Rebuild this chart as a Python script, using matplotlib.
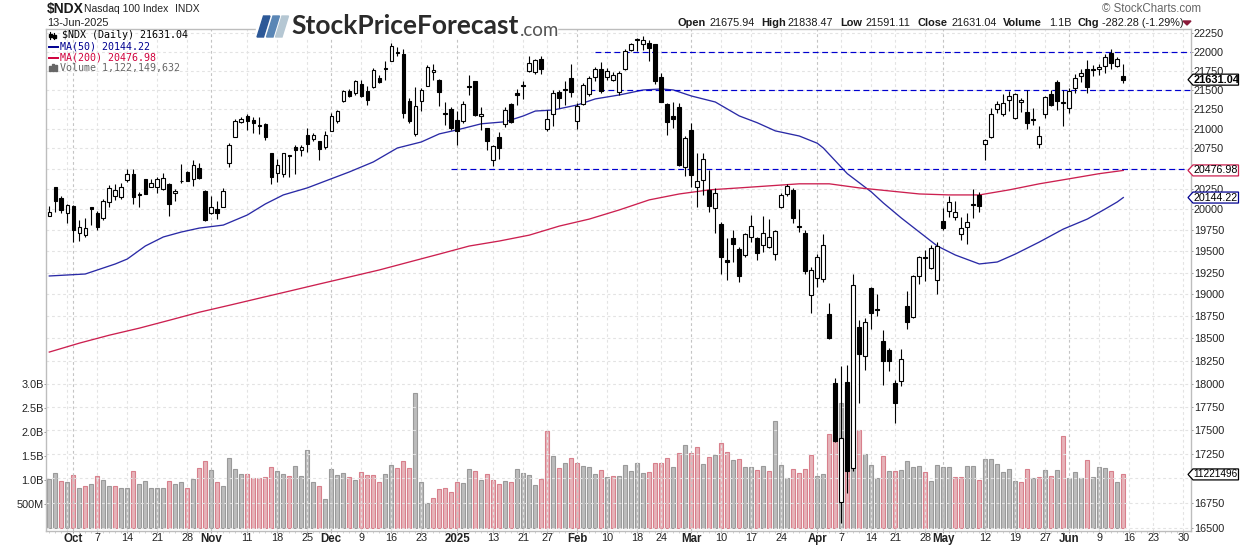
import matplotlib
matplotlib.use('Agg')
import matplotlib.pyplot as plt
from matplotlib.patches import Polygon, Rectangle
from matplotlib.lines import Line2D
from matplotlib.ticker import NullLocator
from matplotlib.transforms import Affine2D
import numpy as np
import pandas as pd

plt.rcParams['font.family'] = ['Liberation Sans', 'DejaVu Sans']

holidays = ['2024-11-28', '2024-12-25', '2025-01-01', '2025-01-09', '2025-01-20',
            '2025-02-17', '2025-04-18', '2025-05-26', '2025-06-19']

opens = [19915,20275,20142,19952,20042,19712,19696,20025,19952,19891,
         20092,20158,20146,20358,20437,20187,20375,20279,20275,20250,
         20304,20200,20350,20454,20375,20512,20225,19952,20000,20033,
         20574,20898,21083,21167,21104,21042,21054,20688,20442,20433,
         20671,20770,20734,20919,20865,20847,20770,20975,21096,21353,
         21483,21452,21579,21487,21530,21653,21785,21880,21985,21965,
         21355,20937,21350,21553,21733,21631,21200,21254,21108,21096,
         21553,21618,21158,21012,20603,20894,21063,21319,21457,21561,
         21745,21728,21905,21000,21187,21470,21509,21653,21092,21315,
         21439,21662,21776,21662,21623,21470,21776,22026,22164,22104,
         22120,22099,21667,21315,21167,21275,20525,20987,20275,20362,
         20233,20012,19821,19402,19655,19530,19453,19665,19655,19574,
         19550,19469,20033,20187,20242,19805,19712,18990,19184,19173,
         18775,18013,16763,18023,17113,18625,18300,19070,18828,18470,
         18367,18013,18026,18866,18745,19212,19432,19310,19161,19857,
         19980,19908,19700,19790,20067,20171,20810,20894,21250,21192,
         21366,21137,21340,21212,21117,20805,21192,21444,21605,21336,
         21258,21518,21675,21772,21776,21767,21810,21978,21815,21675.94]

highs = [20040,20275,20158,20066,20054,19871,19891,20033,19984,20129,
         20292,20312,20325,20500,20492,20208,20375,20367,20400,20442,
         20325,20250,20552,20471,20602,20566,20233,20167,20108,20258,
         20813,21125,21150,21188,21146,21154,21067,20688,20623,20697,
         20671,20795,20800,21004,20941,20850,20967,21200,21233,21500,
         21509,21631,21623,21553,21785,21697,21880,22120,22056,22030,
         21392,21535,21522,21820,21841,21640,21340,21275,21229,21350,
         21692,21618,21275,21012,20800,20963,21275,21328,21509,21618,
         21943,21900,21943,21233,21491,21500,21618,21841,21328,21588,
         21680,21794,21862,21785,21728,21750,22030,22120,22181,22215,
         22151,22108,21720,21328,21340,21328,20908,21075,20688,20688,
         20483,20262,19854,19655,19750,19550,19723,19936,19665,19917,
         19882,19758,20200,20304,20262,20000,19750,19312,19473,19704,
         18900,18065,18200,18210,19230,18708,18725,19080,19000,18595,
         18398,18040,18387,19038,19223,19450,19520,19575,19615,20012,
         20158,20104,19912,19952,20254,20208,20868,21258,21350,21448,
         21478,21457,21392,21500,21263,21033,21422,21500,21631,21491,
         21518,21706,21772,21892,21828,21841,21965,22035,21927,21838.47]

lows = [19915,19964,19952,19839,19615,19627,19673,19810,19750,19871,
        20033,20117,20129,20333,20066,20025,20183,20271,20200,20233,
        19920,20108,20317,20342,20283,20375,19863,19940,19887,20025,
        20520,20890,21067,20983,20941,20936,20856,20304,20333,20400,
        20396,20433,20655,20705,20838,20612,20738,20967,21067,21340,
        21405,21435,21400,21297,21522,21588,21631,21875,21943,21133,
        21075,20913,21220,21544,21631,21285,21042,20983,20792,21067,
        21435,21167,20983,20725,20533,20616,21025,21075,21306,21375,
        21737,21711,21702,20971,21033,21263,21306,21410,20992,21306,
        21422,21610,21457,21631,21610,21435,21754,22013,22013,22022,
        21871,21579,21340,20919,21012,20533,20408,20271,20025,20179,
        19964,19723,19235,19165,19371,19146,19430,19615,19394,19488,
        19540,19402,20012,20158,19839,19730,19231,18790,19088,19146,
        18494,17383,16545,16848,17078,17790,18150,18610,18750,17985,
        18140,17583,17980,18602,18735,19118,19157,19292,19000,19750,
        19912,19871,19640,19590,19891,19964,20607,20877,21200,21162,
        21229,21129,21212,20992,21042,20758,21133,21285,21242,21033,
        21196,21457,21596,21457,21685,21697,21720,21772,21794,21591.11]

closes = [19964,20108,19992,20050,19758,19790,19782,20008,19790,20100,
          20262,20237,20275,20437,20146,20175,20183,20325,20367,20387,
          20062,20225,20342,20346,20546,20383,19871,20025,19952,20225,
          20788,21100,21117,21092,21071,21029,20894,20396,20541,20688,
          20655,20730,20775,20805,20915,20738,20919,21162,21225,21483,
          21414,21618,21422,21362,21763,21605,21772,22078,21998,21200,
          21096,21285,21500,21797,21763,21466,21183,21004,20971,21315,
          21539,21179,21183,20847,20779,20754,21242,21083,21427,21548,
          21850,21888,21772,21125,21457,21397,21496,21466,21293,21561,
          21653,21767,21478,21745,21692,21720,22013,22099,22151,22160,
          22052,21610,21345,21083,21121,20549,20886,20421,20346,20619,
          20046,20200,19430,19371,19590,19215,19700,19805,19476,19723,
          19665,19746,20179,20283,19900,19790,19275,19277,19434,19574,
          18505,17390,17426,17078,19110,18330,18680,18790,18818,18253,
          18253,17797,18268,18687,19212,19434,19422,19540,19558,19773,
          20092,19964,19782,19853,20050,20046,20860,21187,21315,21328,
          21414,21444,21366,21071,21104,20908,21405,21306,21350,21323,
          21483,21653,21720,21530,21759,21797,21927,21845,21900,21631.04]

# volume in billions
volumes = [1.02,1.15,.98,.96,1.10,.83,.875,.92,1.08,1.00,
           .875,.875,.83,.83,1.19,.92,.98,.83,.83,.83,
           .98,.92,.96,.83,1.02,1.25,1.40,1.21,.96,.875,
           1.46,1.23,1.125,1.125,1.04,1.04,1.06,1.27,1.19,1.125,
           1.08,1.29,1.08,1.625,.96,.875,.60,1.23,1.10,1.15,
           1.06,1.00,1.17,1.10,1.10,.96,1.125,1.31,1.25,1.40,
           1.25,2.81,.96,.52,.625,.81,.83,.75,.96,.94,
           1.23,1.19,1.00,1.125,1.00,.92,.98,.96,1.23,1.15,
           1.10,.90,1.02,2.02,1.50,1.25,1.35,1.46,1.35,1.29,
           1.27,1.125,1.21,1.06,1.08,1.08,1.31,1.19,1.35,1.15,
           1.17,1.35,1.35,1.46,1.27,1.56,1.73,1.56,1.69,1.33,
           1.48,1.52,1.77,1.58,1.42,1.44,1.27,1.27,1.21,1.29,
           1.19,2.23,1.31,1.04,1.23,1.15,1.23,1.52,1.08,1.125,
           1.96,1.84,2.62,1.95,2.97,2.05,1.55,1.32,1.04,1.50,
           1.19,1.19,1.21,1.40,1.27,1.29,1.17,.98,1.31,1.27,
           1.27,1.06,1.06,1.29,1.29,1.00,1.44,1.44,1.33,1.17,
           1.23,.98,.96,1.23,1.04,1.06,1.21,1.08,1.21,1.92,
           1.04,1.17,1.04,1.42,1.06,1.27,1.25,1.19,.96,1.122]

# sessions where the volume bar is red
down_days = [2,4,6,8,11,14,20,23,25,26,28,33,34,35,36,37,40,45,50,52,53,54,55,58,59,60,
             64,65,66,67,68,71,73,74,75,77,82,83,85,87,88,92,94,100,101,102,103,105,107,108,
             110,112,113,115,118,120,124,125,126,127,130,131,133,135,139,141,146,151,152,155,
             162,163,165,167,169,173,177,179]

ma50_bars = [0,6,11,13,16,19,22,25,29,33,36,39,43,47,50,54,58,62,65,68,72,76,79,81,84,
             88,91,95,99,102,104,107,111,115,118,121,125,128,129,133,137,139,142,145,148,
             151,155,158,161,165,169,173,176,178,179]
ma50 = [19212,19235,19352,19410,19563,19670,19729,19776,19812,19933,20066,20176,20262,20374,20458,
        20582,20756,20832,20934,20985,21062,21088,21162,21225,21238,21303,21381,21432,21497,21510,
        21497,21419,21341,21162,21075,20972,20907,20816,20756,20437,20213,20079,19897,19729,19563,
        19457,19352,19375,19468,19610,19764,19884,20006,20091,20144.22]
ma200_bars = [0,5,10,15,20,25,30,35,40,45,50,55,60,65,70,75,80,85,90,95,100,105,110,115,120,
              125,130,135,140,145,150,155,160,165,170,175,179]
ma200 = [18349,18448,18537,18616,18705,18796,18875,18956,19037,19119,19200,19282,19375,19468,
         19563,19622,19692,19800,19884,19994,20116,20188,20238,20262,20287,20312,20312,20262,
         20225,20188,20176,20176,20238,20312,20374,20437,20476.98]

level_prices = [21992, 21493, 20491]
level_starts = [91, 90, 67]

tick_dates = ['2024-10-01','2024-10-07','2024-10-14','2024-10-21','2024-10-28',
              '2024-11-01','2024-11-11','2024-11-18','2024-11-25',
              '2024-12-02','2024-12-09','2024-12-16','2024-12-23',
              '2025-01-02','2025-01-13','2025-01-21','2025-01-27',
              '2025-02-03','2025-02-10','2025-02-18','2025-02-24',
              '2025-03-03','2025-03-10','2025-03-17','2025-03-24',
              '2025-04-01','2025-04-07','2025-04-14','2025-04-21','2025-04-28',
              '2025-05-01','2025-05-12','2025-05-19','2025-05-27',
              '2025-06-02','2025-06-09','2025-06-16','2025-06-23','2025-06-30']
tick_labels = ['Oct','7','14','21','28','Nov','11','18','25','Dec','9','16','23',
               '2025','13','21','27','Feb','10','18','24','Mar','10','17','24',
               'Apr','7','14','21','28','May','12','19','27','Jun','9','16','23','30']

price_ticks = list(range(16500, 22251, 250))
# these two sit under the value tags in the original
hidden_prices = [17000, 20500]
vol_ticks = [0.5, 1.0, 1.5, 2.0, 2.5, 3.0]
vol_labels = ['500M', '1.0B', '1.5B', '2.0B', '2.5B', '3.0B']

W, H = 1240, 546
L, R, T, B = 46.0, 1190.5, 28.5, 530.5

# trading calendar, bars are spaced by session and not by date
days = pd.bdate_range('2024-09-25', '2025-06-30')
days = days[~days.isin(pd.to_datetime(holidays))]
tick_x = [days.get_loc(pd.Timestamp(d)) for d in tick_dates]
x = np.arange(len(closes))
opens, highs, lows, closes = map(np.array, (opens, highs, lows, closes))

fig = plt.figure(figsize=(W / 100, H / 100), dpi=100, facecolor='white')
rect = [L / W, 1 - B / H, (R - L) / W, (B - T) / H]
ax_vol = fig.add_axes(rect, zorder=0)
ax = fig.add_axes(rect, zorder=1, facecolor='none')

xlim = ((L - 49.3) / 6, (R - 49.3) / 6)

# volume underneath
bar_cols = ['#e6b3b9' if i in down_days else '#bcbcbc' for i in x]
bar_edges = ['#d8808c' if i in down_days else '#9a9a9a' for i in x]
ax_vol.bar(x, volumes, width=0.68, color=bar_cols, edgecolor=bar_edges, linewidth=0.8)
ax_vol.set_xlim(xlim)
ax_vol.set_ylim(-0.046, 10.41)
ax_vol.set_yticks(vol_ticks, vol_labels, fontsize=7.8)
ax_vol.set_xticks([])
ax_vol.tick_params(axis='y', length=1.5, width=0.7, color='#999999', pad=0.3, labelcolor='#222222')
for s in ax_vol.spines.values():
    s.set_visible(False)

# price panel
ax.set_yscale('log')
ax.set_ylim(16474, 22310)
ax.set_xlim(xlim)
ax.yaxis.tick_right()
ax.set_yticks(price_ticks, ['' if p in hidden_prices else str(p) for p in price_ticks], fontsize=7.8)
ax.yaxis.set_minor_locator(NullLocator())
ax.set_xticks(tick_x, tick_labels, fontsize=7.8)
ax.set_xticks(np.arange(len(days)), minor=True)
ax.tick_params(axis='x', which='major', length=1.5, width=0.7, color='#999999', pad=0.5, labelcolor='#222222')
ax.tick_params(axis='x', which='minor', length=1.2, width=0.5, color='#bbbbbb')
ax.tick_params(axis='y', length=1.5, width=0.7, color='#999999', pad=0.8, labelcolor='#222222')
for lab, txt in zip(ax.get_xticklabels(), tick_labels):
    if not txt.isdigit() or txt == '2025':
        lab.set_fontweight('bold')
        lab.set_fontsize(8.3)
for s in ax.spines.values():
    s.set_color('#bdbdbd')
    s.set_linewidth(1.0)

ax.set_axisbelow(True)
ax.grid(True, axis='both', which='major', color='#e3e3e3', linewidth=0.8, linestyle=(0, (2.5, 2.5)))
for gl, txt in zip(ax.get_xgridlines(), tick_labels):
    if not txt.isdigit() or txt == '2025':
        gl.set_color('#c4c4c4')
ax.axvline(days.get_loc(pd.Timestamp('2024-09-30')), color='#e3e3e3', linewidth=0.8,
           linestyle=(0, (2.5, 2.5)), zorder=0.5)

# moving averages and hand drawn levels
ax.plot(ma50_bars, ma50, color='#2a2aa6', linewidth=0.95, zorder=2)
ax.plot(ma200_bars, ma200, color='#cc2050', linewidth=0.95, zorder=2)
for price, start in zip(level_prices, level_starts):
    ax.hlines(price, start, xlim[1], color='#0000d0', linewidth=0.85,
              linestyle=(0, (5, 3)), zorder=2.5)

# candles
body_low = np.minimum(opens, closes)
body_high = np.maximum(opens, closes)
ax.vlines(x, lows, highs, color='black', linewidth=0.8, zorder=3)
face = ['white' if c > o else 'black' for o, c in zip(opens, closes)]
ax.bar(x, body_high - body_low, bottom=body_low, width=0.6, color=face,
       edgecolor='black', linewidth=0.8, zorder=4)
ax.set_xlim(xlim)
ax.set_ylim(16474, 22310)

# everything below is placed in picture pixels, origin top left
px = Affine2D().scale(1, -1).translate(0, H)


def label(x0, y0, s, **kw):
    kw.setdefault('va', 'center')
    kw.setdefault('ha', 'left')
    kw.setdefault('color', '#222222')
    kw.setdefault('zorder', 12)
    fig.text(x0, y0, s, transform=px, **kw)


label(47, 9, '$NDX', fontsize=10, fontweight='bold', color='#1a1a1a')
label(84, 9.5, 'Nasdaq 100 Index', fontsize=7.5)
label(175, 9.5, 'INDX', fontsize=7.4)
label(47, 22.5, '13-Jun-2025', fontsize=7.9)

mono = dict(family='DejaVu Sans Mono', fontsize=7.2)
label(62, 35.5, '$NDX (Daily) 21631.04', color='black', **mono)
label(60, 46.5, 'MA(50) 20144.22', color='#000090', **mono)
label(60, 57.5, 'MA(200) 20476.98', color='#d0003c', **mono)
label(60, 67.5, 'Volume 1,122,149,632', color='#666666', **mono)
fig.add_artist(Line2D([49, 58], [46.5, 46.5], color='#000090', linewidth=1.4, transform=px, zorder=12))
fig.add_artist(Line2D([49, 58], [57.5, 57.5], color='#d0003c', linewidth=1.4, transform=px, zorder=12))
for xb, top in [(50, 66), (53, 64), (56, 65)]:
    fig.add_artist(Rectangle((xb - 1, top), 2, 71 - top, color='#666666', transform=px, zorder=12))
for xb, top, low in [(50, 32, 39), (54, 33, 39)]:
    fig.add_artist(Line2D([xb, xb], [top, low], color='black', linewidth=0.8, transform=px, zorder=12))
    fig.add_artist(Rectangle((xb - 1.5, top + 2), 3, 3, color='black', transform=px, zorder=12))

# header values
head = [(678, 'Open', True), (710, '21675.94', False), (761, 'High', True), (788, '21838.47', False),
        (840, 'Low', True), (866, '21591.11', False), (917, 'Close', True), (952, '21631.04', False),
        (1003, 'Volume', True), (1049, '1.1B', False), (1077, 'Chg', True), (1102, '-282.28 (-1.29%)', False)]
for xh, s, bold in head:
    label(xh, 22.5, s, fontsize=7.9 if bold else 7.8, fontweight='bold' if bold else 'normal', color='#1a1a1a')
fig.add_artist(Polygon([(1183, 21), (1191, 21), (1187, 25)], color='#8b1a3a', transform=px, zorder=12))
label(1102, 9.5, '\u00a9 StockCharts.com', fontsize=8.3, color='#666666')

# logo sits on a white patch over the top of the frame
fig.add_artist(Rectangle((256, 6), 301, 32, color='white', transform=px, zorder=8))
for (x0, col) in [(257, '#2c5897'), (266.5, '#5a86b5'), (275.5, '#b5c7d3')]:
    fig.add_artist(Polygon([(x0, 37), (x0 + 6.5, 37), (x0 + 13, 16), (x0 + 6.5, 16)],
                           color=col, transform=px, zorder=9))
label(291, 26.5, 'StockPriceForecast', family='Lato', fontweight='bold', fontsize=19, color='#2b2b2b')
label(520, 30, '.com', family='Lato', fontsize=13.5, color='#555555')


def price_tag(yp, s, edge, bold=False, size=7.7):
    pts = [(1188, yp), (1193, yp - 5.5), (1238.5, yp - 5.5), (1238.5, yp + 5.5), (1193, yp + 5.5)]
    fig.add_artist(Polygon(pts, facecolor='white', edgecolor=edge, linewidth=0.9, transform=px, zorder=11))
    label(1193.5, yp, s, fontsize=size, color='black', fontweight='bold' if bold else 'normal')


# tags follow the axes so they stay on their values
def to_px(axis, v):
    return H - axis.transData.transform((0, v))[1]


fig.canvas.draw()
price_tag(to_px(ax, closes[-1]), '21631.04', 'black', bold=True, size=7.9)
price_tag(to_px(ax, ma200[-1]), '20476.98', '#cc2050')
price_tag(to_px(ax, ma50[-1]), '20144.22', '#000090')
price_tag(to_px(ax_vol, volumes[-1]), '11221496', 'black', size=7.2)

fig.savefig('out.png', dpi=100)
